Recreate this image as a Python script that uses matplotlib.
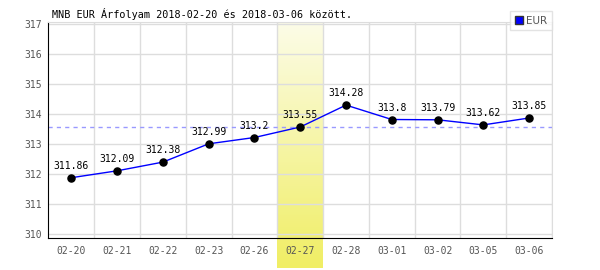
import numpy as np
import matplotlib
matplotlib.use("Agg")
import matplotlib.pyplot as plt
from matplotlib.lines import Line2D

dates = ["02-20", "02-21", "02-22", "02-23", "02-26", "02-27",
         "02-28", "03-01", "03-02", "03-05", "03-06"]
rates = [311.86, 312.09, 312.38, 312.99, 313.2, 313.55,
         314.28, 313.8, 313.79, 313.62, 313.85]
rate_labels = ["311.86", "312.09", "312.38", "312.99", "313.2", "313.55",
               "314.28", "313.8", "313.79", "313.62", "313.85"]
highlight_idx = 5
y_ticks = [310, 311, 312, 313, 314, 315, 316, 317]
title = "MNB EUR Árfolyam 2018-02-20 és 2018-03-06 között."

W, H = 600, 270
fig = plt.figure(figsize=(W / 100, H / 100), dpi=100)
mono = "DejaVu Sans Mono"

# axes placement in pixels
left, right, top, bottom = 48.5, 552, 22, 238
ax = fig.add_axes([left / W, (H - bottom) / H, (right - left) / W, (bottom - top) / H])
ax.set_xlim(-0.5, len(dates) - 0.5)
ax.set_ylim(309.85, 317.05)
ax.patch.set_alpha(0)

# highlighted column, gradient from pale to yellow, reaching below the axis
band_w = (right - left) / len(dates)
hx0 = left + band_w * highlight_idx
gax = fig.add_axes([hx0 / W, (H - 268) / H, band_w / W, (268 - top) / H], zorder=-1)
grad = np.linspace(0, 1, 256).reshape(-1, 1)
c_top = np.array([252, 252, 232]) / 255
c_bot = np.array([240, 238, 100]) / 255
img = c_top[None, None, :] * (1 - grad[:, :, None]) + c_bot[None, None, :] * grad[:, :, None]
gax.imshow(img, aspect="auto", extent=[0, 1, 0, 1])
gax.axis("off")

# grid
for y in y_ticks:
    ax.axhline(y, color="#dddddd", lw=1, zorder=0)
for i in range(len(dates)):
    ax.axvline(i + 0.5, color="#dddddd", lw=1, zorder=0)

x = np.arange(len(dates))
ax.axhline(rates[highlight_idx], color="#9999ff", lw=1, ls=(0, (3, 3)), zorder=1)
ax.plot(x, rates, color="#0000ff", lw=1, zorder=2)
ax.scatter(x, rates, s=26, color="black", zorder=3)
for xi, yi, lab in zip(x, rates, rate_labels):
    ax.annotate(lab, (xi, yi), xytext=(0, 5), textcoords="offset points",
                ha="center", va="bottom", fontsize=7.0, family=mono, color="black")

ax.set_xticks(x)
ax.set_xticklabels(dates)
ax.set_yticks(y_ticks)
ax.tick_params(axis="both", length=0, labelsize=7.0, labelcolor="#555555")
ax.tick_params(axis="x", pad=6)
ax.tick_params(axis="y", pad=5)
for lab in ax.get_xticklabels() + ax.get_yticklabels():
    lab.set_family(mono)

ax.spines["left"].set_color("black")
ax.spines["bottom"].set_color("black")
ax.spines["top"].set_color("#dddddd")
ax.spines["right"].set_color("#dddddd")

fig.text(52 / W, 1 - 14 / H, title, fontsize=7.25, family=mono, color="black",
         ha="left", va="center")

handle = Line2D([], [], marker="s", ls="none", markersize=6,
                markerfacecolor="#0000ff", markeredgecolor="#333333")
leg = fig.legend([handle], ["EUR"], loc="upper right",
                 bbox_to_anchor=(552 / W, 1 - 11 / H), frameon=True, fancybox=False,
                 prop={"size": 7.5}, handlelength=0.8,
                 handletextpad=0.3, borderpad=0.45, borderaxespad=0)
leg.get_frame().set_edgecolor("#dddddd")
leg.get_frame().set_linewidth(1)
for t in leg.get_texts():
    t.set_color("#555555")

fig.savefig("out.png", dpi=100)
